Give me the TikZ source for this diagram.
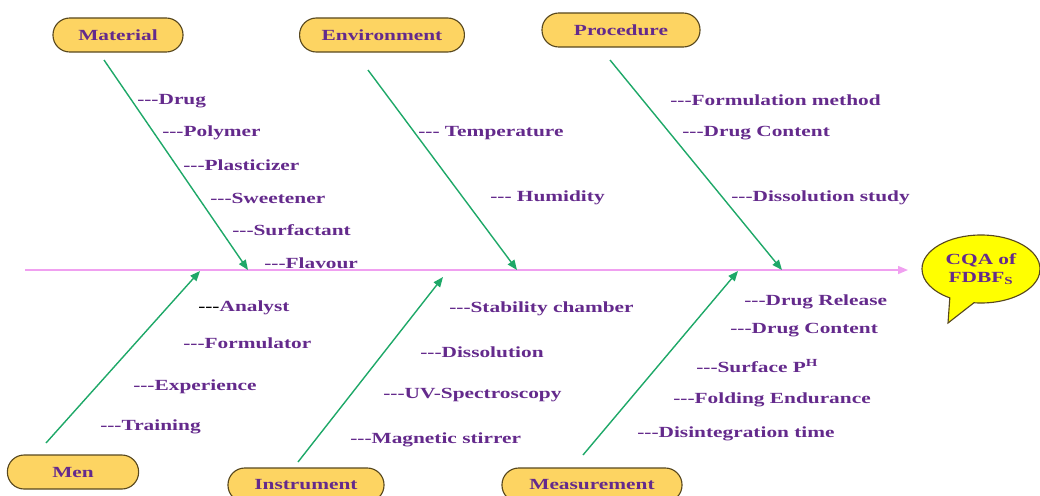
\documentclass[tikz,border=0pt]{standalone}
\usepackage{fontspec}
\setmainfont{Liberation Serif}[FakeStretch=1.38]
\usetikzlibrary{shapes.callouts,arrows.meta}
\definecolor{txtpurple}{RGB}{100,42,140}
\definecolor{bonegreen}{RGB}{30,168,104}
\definecolor{spinepink}{RGB}{240,160,240}
\definecolor{boxfill}{RGB}{253,212,98}
\definecolor{boxline}{RGB}{88,72,30}
\definecolor{cqafill}{RGB}{255,255,0}
\newcommand{\dsh}{-{}-{}-}
\tikzset{
cause/.style={draw=boxline, fill=boxfill, line width=0.8pt, rounded corners=0.42cm,
  minimum height=0.85cm, text=txtpurple, font=\bfseries\fontsize{11}{13}\selectfont},
item/.style={anchor=west, inner sep=0pt, yshift=-0.05cm, text=txtpurple, font=\bfseries\fontsize{11}{13}\selectfont},
bone/.style={draw=bonegreen, line width=1pt, -{Triangle[length=0.25cm,width=0.2cm]}},
spine/.style={draw=spinepink, line width=1pt, -{Triangle[length=0.25cm,width=0.2cm]}}
}

\begin{document}
\begin{tikzpicture}[x=0.025cm, y=-0.025cm]
\useasboundingbox (0,0) rectangle (1040,495);

% the six causes
\node [cause, minimum width=3.25cm] at (118,35) (mat) {Material};
\node [cause, minimum width=4.12cm] at (382,35) (env) {Environment};
\node [cause, minimum width=3.95cm] at (621,30) (proc) {Procedure};
\node [cause, minimum width=3.28cm] at (73,472) (men) {Men};
\node [cause, minimum width=3.9cm] at (306,485) (ins) {Instrument};
\node [cause, minimum width=4.5cm] at (592,485) (meas) {Measurement};

% effect
\coordinate (tip) at (948,323);
\node [ellipse callout, callout absolute pointer={(tip)}, callout pointer arc=25,
  draw=boxline, fill=cqafill, line width=0.8pt, minimum width=2.95cm,
  minimum height=1.7cm, inner sep=0pt, align=center, text=txtpurple,
  font=\bfseries\fontsize{11}{13}\selectfont]
  at (981,269) (cqa) {CQA of\\FDBF\textsubscript{S}};

% spine
\coordinate (tail) at (25,270);
\coordinate (head) at (908,270);
\draw [spine] (tail) -- (head);

% bones
\coordinate (mat1) at (104,60);  \coordinate (mat2) at (248,270);
\coordinate (env1) at (368,70);  \coordinate (env2) at (517,270);
\coordinate (proc1) at (610,60); \coordinate (proc2) at (782,270);
\coordinate (men1) at (46,443);  \coordinate (men2) at (200,271);
\coordinate (ins1) at (298,462); \coordinate (ins2) at (443,277);
\coordinate (meas1) at (583,455);\coordinate (meas2) at (738,271);
\draw [bone] (mat1) -- (mat2);
\draw [bone] (env1) -- (env2);
\draw [bone] (proc1) -- (proc2);
\draw [bone] (men1) -- (men2);
\draw [bone] (ins1) -- (ins2);
\draw [bone] (meas1) -- (meas2);

% material
\node [item] at (137,99) (drug) {\dsh Drug};
\node [item] at (162,131) (poly) {\dsh Polymer};
\node [item] at (183,163) (plast) {\dsh Plasticizer};
\node [item] at (210,196) (sweet) {\dsh Sweetener};
\node [item] at (232,228) (surf) {\dsh Surfactant};
\node [item] at (264,261) (flav) {\dsh Flavour};

% environment
\node [item] at (418,131) (temp) {\dsh\ Temperature};
\node [item] at (490,196) (hum) {\dsh\ Humidity};

% procedure
\node [item] at (670,98) (form) {\dsh Formulation method};
\node [item] at (682,131) (dcont) {\dsh Drug Content};
\node [item] at (731,196) (dstudy) {\dsh Dissolution study};

% men
\node [item] at (198,306) (anal) {{\color{black}\dsh}Analyst};
\node [item] at (183,341) (formu) {\dsh Formulator};
\node [item] at (133,385) (exp) {\dsh Experience};
\node [item] at (100,425) (train) {\dsh Training};

% instrument
\node [item] at (449,307) (stab) {\dsh Stability chamber};
\node [item] at (420,350) (diss) {\dsh Dissolution};
\node [item] at (383,393) (uv) {\dsh UV-Spectroscopy};
\node [item] at (350,438) (magn) {\dsh Magnetic stirrer};

% measurement
\node [item] at (744,300) (rel) {\dsh Drug Release};
\node [item] at (730,328) (mcont) {\dsh Drug Content};
\node [item] at (696,364) (ph) {\dsh Surface P\textsuperscript{H}};
\node [item] at (673,398) (fold) {\dsh Folding Endurance};
\node [item] at (637,432) (dis) {\dsh Disintegration time};

\end{tikzpicture}
\end{document}
